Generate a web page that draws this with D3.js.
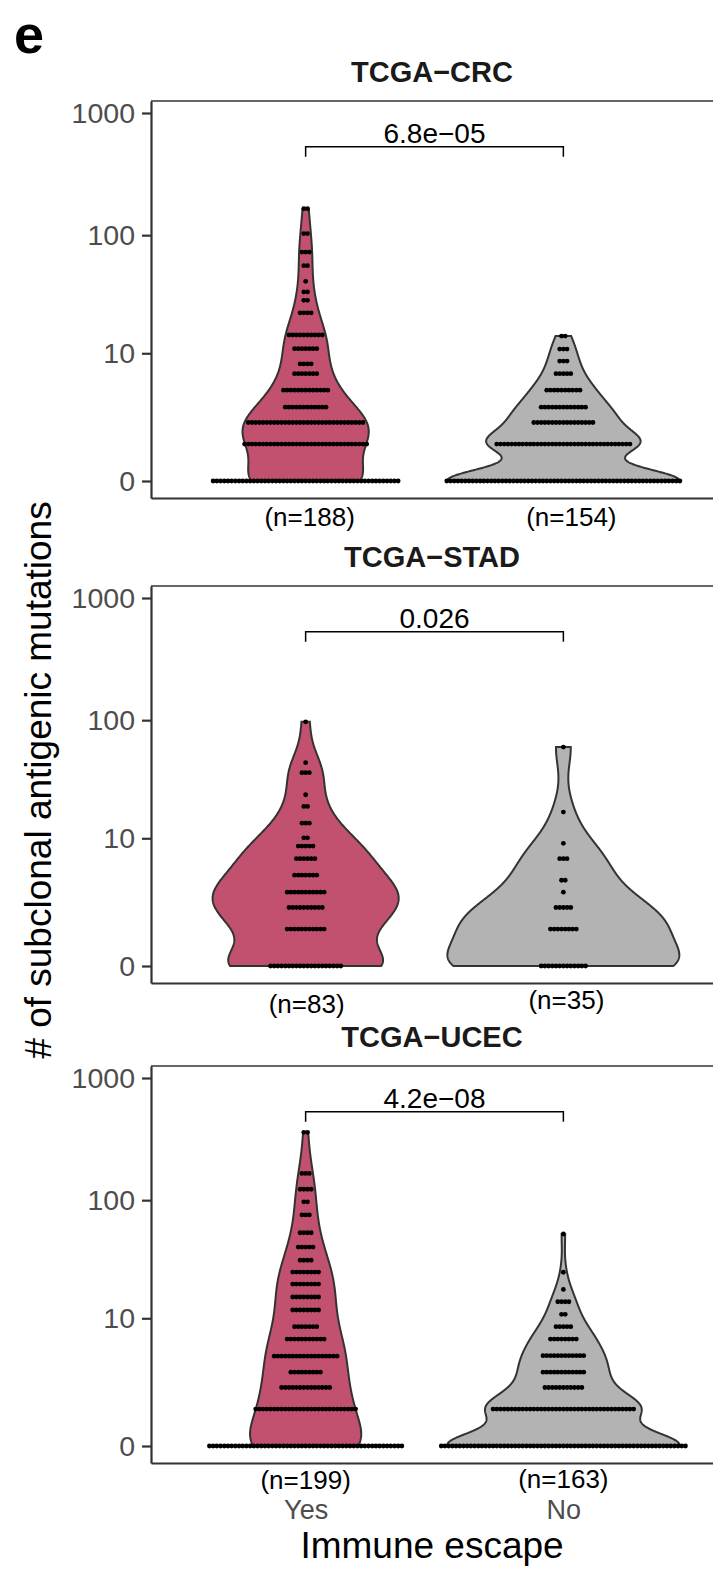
<!DOCTYPE html>
<html>
<head>
<meta charset="utf-8">
<script src="https://cdn.jsdelivr.net/npm/d3@7"></script>
<style>
  body { margin: 0; background: #fff; }
  text { font-family: "Liberation Sans", Arial, Helvetica, sans-serif; }
</style>
</head>
<body>
<div id="chart"></div>
<script>
// ---- data ----
const groups = ["Yes", "No"];
const cohorts = ["TCGA\u2212CRC", "TCGA\u2212STAD", "TCGA\u2212UCEC"];
const pValues = ["6.8e\u221205", "0.026", "4.2e\u221208"];
const sampleSizes = [[188, 154], [83, 35], [199, 163]];
const tickValues = [0, 10, 100, 1000];
const tickLabels = ["0", "10", "100", "1000"];
const bracketValue = 530; // height of the comparison bracket, in mutations

// dot rows: bin centre (mutations) and number of dots in that row
const crcYesLevels = [0, 1, 2, 3, 4.5, 6.5, 8, 11, 14.5, 22.5, 28.7, 33.8, 41.5, 56, 72.6, 103, 165];
const crcYesCounts = [51, 34, 32, 12, 13, 7, 4, 7, 10, 4, 2, 2, 1, 2, 3, 2, 2];
const crcNoLevels = [0, 1, 2, 3, 4.5, 6.5, 8.5, 10.9, 14.2];
const crcNoCounts = [64, 37, 17, 13, 10, 5, 3, 3, 2];

const stadYesLevels = [0, 1, 2, 3, 4.5, 6.5, 8.5, 10.1, 13.6, 19, 23.9, 36.7, 44.5, 97];
const stadYesCounts = [20, 11, 10, 11, 7, 6, 5, 2, 3, 2, 1, 3, 1, 1];
const stadNoLevels = [0, 1, 2, 3, 4, 6.5, 9, 17, 60];
const stadNoCounts = [13, 8, 5, 1, 2, 3, 1, 1, 1];

const ucecYesLevels = [0, 1, 2, 3, 4.4, 6.45, 8.4, 11.85, 15.4, 19.9, 25.2, 31.7, 40.9, 53.8, 75.5, 97, 123, 166, 360];
const ucecYesCounts = [53, 28, 14, 9, 18, 11, 7, 8, 8, 8, 8, 4, 5, 4, 3, 2, 4, 3, 2];
const ucecNoLevels = [0, 1, 2, 3, 4.45, 6.45, 8.4, 10.85, 14, 17.9, 25.1, 52.5];
const ucecNoCounts = [67, 39, 11, 12, 12, 8, 5, 2, 4, 1, 1, 1];

const panels = [
  [[crcYesLevels, crcYesCounts], [crcNoLevels, crcNoCounts]],
  [[stadYesLevels, stadYesCounts], [stadNoLevels, stadNoCounts]],
  [[ucecYesLevels, ucecYesCounts], [ucecNoLevels, ucecNoCounts]]
];

// ---- layout / style ----
const width = 713, height = 1569;
const left = 151, right = 718;          // panel runs a bit past the page edge
const panelTops = [101, 586, 1066];
const panelH = 397;
const fills = { Yes: "#c1516f", No: "#b3b3b3" };
const dotGap = 3.7;                     // px between dots in a row
const dotR = 2.4;
const nNudge = [[[4, 0], [8, 0]], [[1, 2], [3, -2]], [[0, -2], [0, -3]]];

const log1p = v => Math.log10(v + 1);

const svg = d3.select("#chart").append("svg")
  .attr("width", width).attr("height", height)
  .style("display", "block");

svg.append("text")
  .attr("x", 14).attr("y", 53)
  .style("font-size", "54px").style("font-weight", "bold")
  .text("e");

const x = d3.scalePoint().domain(groups).range([left, right]).padding(0.6);
const step = x.step();

// R's bw.nrd0
function bwNrd0(v) {
  const s = d3.deviation(v);
  const iqr = d3.quantile(v, 0.75) - d3.quantile(v, 0.25);
  let lo = Math.min(s, iqr / 1.34);
  if (!lo) lo = s || Math.abs(v[0]) || 1;
  return 0.9 * lo * Math.pow(v.length, -0.2);
}

function kde(v) {
  const h = bwNrd0(v);
  const lo = d3.min(v), hi = d3.max(v);
  const n = v.length;
  return d3.range(512).map(i => {
    const t = lo + (hi - lo) * i / 511;
    let s = 0;
    for (const xi of v) { const u = (t - xi) / h; s += Math.exp(-0.5 * u * u); }
    return [t, s / (n * h * Math.sqrt(2 * Math.PI))];
  });
}

panels.forEach((panel, pi) => {
  const top = panelTops[pi], bottom = top + panelH;
  const g = svg.append("g");

  const y = d3.scaleLinear().domain([-0.1386, 3.0983]).range([bottom, top]);

  // expand rows to observations (log scale) for the density
  const obs = panel.map(([levels, counts]) =>
    levels.flatMap((lv, i) => d3.range(counts[i]).map(() => log1p(lv))).sort(d3.ascending));
  const dens = obs.map(kde);
  const maxD = d3.max(dens, d => d3.max(d, p => p[1]));
  const w = d3.scaleLinear().domain([0, maxD]).range([0, 0.45 * step]);

  // title
  svg.append("text")
    .attr("x", (left + right - 5) / 2).attr("y", top - 19)
    .attr("text-anchor", "middle")
    .style("font-size", "29px").style("font-weight", "bold").style("fill", "#1a1a1a")
    .text(cohorts[pi]);

  // violins
  groups.forEach((grp, gi) => {
    const cx = x(grp);
    const area = d3.area()
      .y(d => y(d[0]))
      .x0(d => cx - w(d[1]))
      .x1(d => cx + w(d[1]));
    g.append("path")
      .datum(dens[gi])
      .attr("d", area)
      .attr("fill", fills[grp])
      .attr("stroke", "#333333")
      .attr("stroke-width", 2);
  });

  // dots
  groups.forEach((grp, gi) => {
    const cx = x(grp);
    const [levels, counts] = panel[gi];
    const pts = levels.flatMap((lv, i) =>
      d3.range(counts[i]).map(k => ({ v: lv, off: k - (counts[i] - 1) / 2 })));
    g.selectAll(null).data(pts).join("circle")
      .attr("cx", d => cx + d.off * dotGap)
      .attr("cy", d => y(log1p(d.v)))
      .attr("r", dotR)
      .attr("fill", "#000");
  });

  // comparison bracket
  const by = y(log1p(bracketValue));
  g.append("path")
    .attr("d", `M${x("Yes")},${by + 10}V${by}H${x("No")}V${by + 10}`)
    .attr("fill", "none").attr("stroke", "#000").attr("stroke-width", 1.5);
  g.append("text")
    .attr("x", (x("Yes") + x("No")) / 2).attr("y", by - 4)
    .attr("text-anchor", "middle")
    .style("font-size", "28px")
    .text(pValues[pi]);

  // top frame line
  g.append("line")
    .attr("x1", left).attr("x2", right).attr("y1", top).attr("y2", top)
    .attr("stroke", "#333").attr("stroke-width", 1.3);

  // y axis
  const ya = g.append("g")
    .attr("transform", `translate(${left},0)`)
    .call(d3.axisLeft(y)
      .tickValues(tickValues.map(log1p))
      .tickFormat((d, i) => tickLabels[i])
      .tickSize(9).tickSizeOuter(0).tickPadding(7));
  ya.select(".domain").attr("stroke", "#333").attr("stroke-width", 2.2);
  ya.selectAll(".tick line").attr("stroke", "#333").attr("stroke-width", 2.2);
  ya.selectAll(".tick text")
    .style("font-size", "28.5px").attr("fill", "#4d4d4d")
    .attr("font-family", null);

  // x axis
  const last = pi === panels.length - 1;
  const xa = g.append("g")
    .attr("transform", `translate(0,${bottom})`)
    .call(d3.axisBottom(x).tickSize(0).tickSizeOuter(0).tickPadding(37)
      .tickFormat(d => last ? d : ""));
  xa.select(".domain").attr("stroke", "#333").attr("stroke-width", 2.2);
  xa.selectAll(".tick text")
    .style("font-size", "27px").attr("fill", "#4d4d4d")
    .attr("font-family", null);

  // sample size labels
  groups.forEach((grp, gi) => {
    svg.append("text")
      .attr("x", x(grp) + nNudge[pi][gi][0])
      .attr("y", bottom + 28 + nNudge[pi][gi][1])
      .attr("text-anchor", "middle")
      .style("font-size", "26px")
      .text(`(n=${sampleSizes[pi][gi]})`);
  });
});

// axis titles
svg.append("text")
  .attr("x", (left + right - 5) / 2).attr("y", 1558)
  .attr("text-anchor", "middle")
  .style("font-size", "37px")
  .text("Immune escape");

svg.append("text")
  .attr("transform", "translate(51,780) rotate(-90)")
  .attr("text-anchor", "middle")
  .style("font-size", "37px")
  .text("# of subclonal antigenic mutations");
</script>
</body>
</html>
